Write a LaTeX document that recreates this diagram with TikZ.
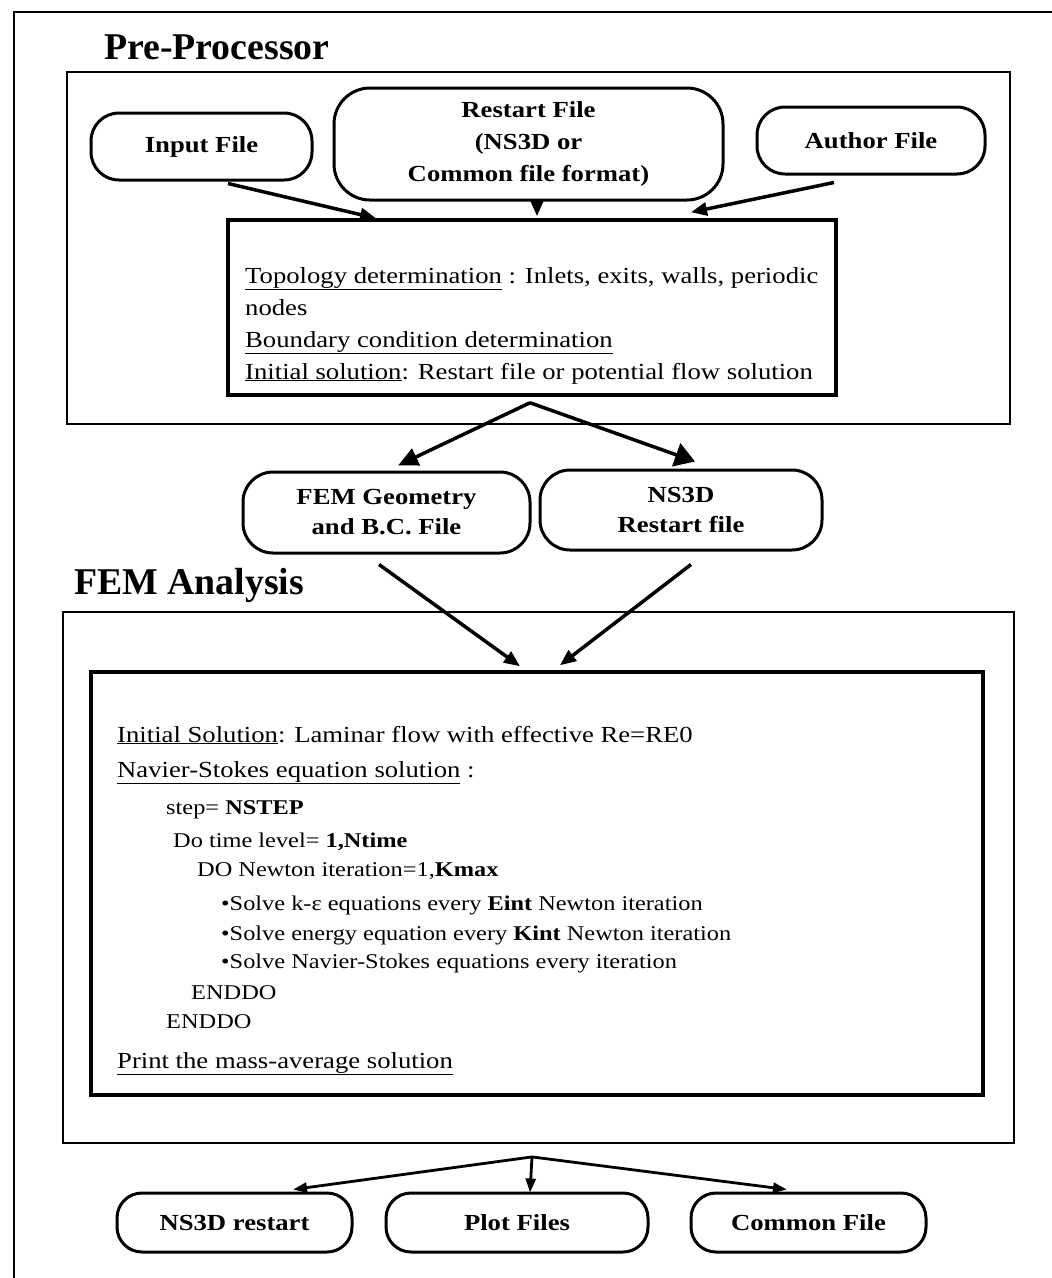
\documentclass[tikz,border=0pt]{standalone}
\usepackage{fontspec}
\setmainfont{Liberation Serif}
\newfontfamily\widefont[FakeStretch=1.16]{Liberation Serif}
\usetikzlibrary{arrows.meta,calc}
\begin{document}
\begin{tikzpicture}[x=1pt,y=-1pt,
 rbox/.style={draw,line width=3pt,rounded corners=28pt,align=center,inner sep=0pt,font=\widefont\fontsize{23}{32}\selectfont\bfseries},
 sect/.style={draw,line width=1.8pt,inner sep=0pt},
 ibox/.style={draw,line width=3.5pt,inner sep=0pt},
 ttl/.style={anchor=west,inner sep=0pt,font=\fontsize{37.8}{42}\selectfont\bfseries},
 txt/.style={anchor=base west,inner sep=0pt,font=\widefont\fontsize{23}{26}\selectfont},
 ltxt/.style={anchor=base west,inner sep=0pt,font=\widefont\fontsize{21}{24}\selectfont},
 arr/.style={line width=3.5pt,-{Triangle[length=16pt,width=13pt]}},
 bigarr/.style={line width=3.5pt,-{Triangle[length=20pt,width=24pt]}},
 medarr/.style={line width=3.5pt,-{Triangle[length=20pt,width=18pt]}},
 smarr/.style={line width=2.8pt,-{Triangle[length=14pt,width=10pt]}},
 frame/.style={line width=2pt}
]
\useasboundingbox (0,0) rectangle (1052,1278);
\fill[white] (0,0) rectangle (1052,1278);
\draw[frame] (14,1278) -- (14,12) -- (1052,12);

% titles
\node[ttl] (tpre) at (104,47) {Pre-Processor};
\node[ttl] (tfem) at (74,585) {FEM Analysis};

% section boxes
\node[sect,minimum width=943pt,minimum height=352pt] (pre) at (538.5,248) {};
\node[sect,minimum width=951pt,minimum height=531pt] (femsec) at (538.5,877.5) {};

% pre-processor inputs
\node[rbox,minimum width=221pt,minimum height=67pt] (in) at (201.5,146.5) {Input File};
\node[rbox,minimum width=389pt,minimum height=112pt,rounded corners=36pt] (rs) at (528.5,144) {Restart File\\(NS3D or\\Common file format)};
\node[rbox,minimum width=228pt,minimum height=67pt] (au) at (871,140.5) {Author File};

% topology box
\node[ibox,minimum width=608pt,minimum height=175pt] (topo) at (532,307.5) {};
\node[txt] (p1) at (245,283) {\underline{Topology determination} : Inlets, exits, walls, periodic};
\node[txt] (p2) at (245,315) {nodes};
\node[txt] (p3) at (245,347) {\underline{Boundary condition determination}};
\node[txt] (p4) at (245,379) {\underline{Initial solution}: Restart file or potential flow solution};

% intermediate files
\node[rbox,minimum width=287pt,minimum height=81pt,rounded corners=30pt,font=\widefont\fontsize{23}{30}\selectfont\bfseries] (fg) at (386.5,512.5) {FEM Geometry\\and B.C. File};
\node[rbox,minimum width=282pt,minimum height=80pt,rounded corners=30pt,font=\widefont\fontsize{23}{30}\selectfont\bfseries] (ns) at (681,510) {NS3D\\Restart file};

% FEM solution box
\node[ibox,minimum width=892pt,minimum height=423pt] (sol) at (537,883.5) {};
\node[txt] (f1) at (117,742) {\underline{Initial Solution}: Laminar flow with effective Re=RE0};
\node[txt] (f2) at (117,777) {\underline{Navier-Stokes equation solution} :};
\node[ltxt] (f3) at (166,814) {step= \textbf{NSTEP}};
\node[ltxt] (f4) at (173,847) {Do time level= \textbf{1,Ntime}};
\node[ltxt] (f5) at (197,876) {DO Newton iteration=1,\textbf{Kmax}};
\node[ltxt] (f6) at (221,910) {•Solve k-ε equations every \textbf{Eint} Newton iteration};
\node[ltxt] (f7) at (221,940) {•Solve energy equation every \textbf{Kint} Newton iteration};
\node[ltxt] (f8) at (221,968) {•Solve Navier-Stokes equations every iteration};
\node[ltxt] (f9) at (191,999) {ENDDO};
\node[ltxt] (f10) at (166,1028) {ENDDO};
\node[txt] (f11) at (117,1068) {\underline{Print the mass-average solution}};

% outputs
\node[rbox,minimum width=235pt,minimum height=59pt,rounded corners=25pt] (b1) at (234.5,1222.5) {NS3D restart};
\node[rbox,minimum width=262pt,minimum height=59pt,rounded corners=25pt] (b2) at (517,1222.5) {Plot Files};
\node[rbox,minimum width=235pt,minimum height=59pt,rounded corners=25pt] (b3) at (808.5,1222.5) {Common File};

% arrows into topology box
\draw[arr] ($(in.south)+(26.5,2)$) -- ($(topo.north)+(-156,0)$);
\draw[arr] ($(rs.south)+(8.5,0)$) -- ($(topo.north)+(5,-2)$);
\draw[arr] ($(au.south)+(-37,7)$) -- ($(topo.north)+(159,-6)$);

% arrows out of pre-processor
\coordinate (apex1) at ($(topo.south)+(-2,6)$);
\draw[medarr] (apex1) -- ($(fg.north)+(11.5,-5)$);
\draw[bigarr] (apex1) -- ($(ns.north)+(14,-7)$);

% arrows into FEM box
\draw[arr] ($(fg.south)+(-7.5,10)$) -- ($(sol.north)+(-17,-4)$);
\draw[arr] ($(ns.south)+(10,13)$) -- ($(sol.north)+(23,-5)$);

% arrows to outputs
\coordinate (apex2) at ($(femsec.south)+(-6.5,13)$);
\draw[smarr] (apex2) -- ($(b1.north)+(58.5,-2)$);
\draw[smarr] (apex2) -- ($(b2.north)+(13,1)$);
\draw[smarr] (apex2) -- ($(b3.north)+(-21.5,-2)$);
\end{tikzpicture}
\end{document}
